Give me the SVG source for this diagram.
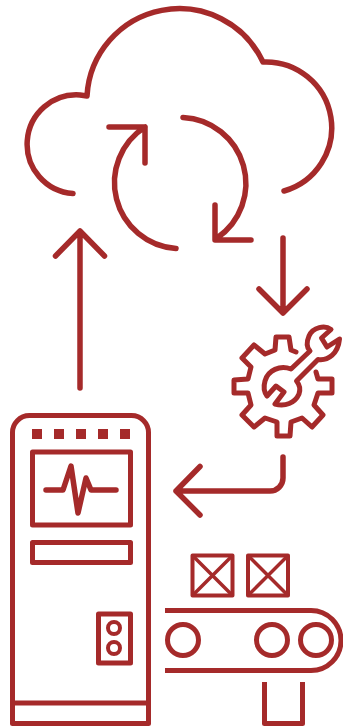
<svg xmlns="http://www.w3.org/2000/svg" width="343" height="726" viewBox="0 0 343 726">
<style>
.l{fill:none;stroke:#a52a2a;stroke-width:5.500;stroke-linecap:round;stroke-linejoin:round}
.g{fill:none;stroke:#a52a2a;stroke-width:5;stroke-linecap:round;stroke-linejoin:round}
.b{fill:none;stroke:#a52a2a;stroke-width:5;stroke-linejoin:round}
.t{fill:none;stroke:#a52a2a;stroke-width:4;stroke-linejoin:round}
.s{fill:#a52a2a}
</style>
<rect width="343" height="726" fill="#fff"/>
<g id="cloud"><path class="l" d="M73 193.500A49.100 49.100 0 0 1 80 95L87 96A92.400 92.400 0 0 1 263 62A65.800 65.800 0 0 1 284 191"/></g>
<g id="cycle">
<path class="l" d="M176 248.500A66 66 0 0 1 145 127M109 127H145V163"/>
<path class="l" d="M183 117.500A66 66 0 0 1 217 238M215 205V240H251"/>
</g>
<g id="gear">
<path class="g" d="M296 352L291 350L289 337H276L275 350L265 354L254 345L242 358L251 367L248 379L234 380V393L248 393L251 405L242 415L254 427L265 418L277 422V436H290L291 422L302 418L312 427L323 415L314 405L318 393L332 393V379L318 379L316 372"/>
<path class="g" d="M331 329.500C325 325 313 327 309 336C306 343 307 348 310 351L291 369C280 365 268 370 265 381C263 388 264 392 267 396L276 386L284 392L275 404C285 407 295 403 299 394C301 388 299 384 296.500 381L318 359.500C328 361 338 354 339.500 339L327 347L321.500 338Z"/>
</g>
<g id="machine">
<path class="b" d="M12.500 433A17 17 0 0 1 29.500 415.500H131.500A17 17 0 0 1 148.500 433V723.500H12.500ZM12.500 703H148.500"/>
<g class="s"><rect x="32" y="429" width="10" height="10"/><rect x="54" y="429" width="10" height="10"/><rect x="76" y="429" width="10" height="10"/><rect x="98" y="429" width="10" height="10"/><rect x="120" y="429" width="10" height="10"/></g>
<rect class="b" x="32.500" y="452" width="98" height="73"/>
<path class="l" d="M46 490H63L71 466L78 513L86 478L91 490H116"/>
<rect class="b" x="32.500" y="542.500" width="98" height="20"/>
<rect class="b" x="98.500" y="614" width="32" height="49"/>
<circle class="t" cx="114" cy="628" r="6"/><circle class="t" cx="114" cy="648" r="6"/>
</g>
<g id="conveyor">
<rect class="t" x="192.500" y="555.500" width="40" height="40"/>
<path d="M192.500 555.500L232.500 595.500M232.500 555.500L192.500 595.500" fill="none" stroke="#a52a2a" stroke-width="3.500"/>
<rect class="t" x="248" y="555.500" width="40" height="40"/>
<path d="M248 555.500L288 595.500M288 555.500L248 595.500" fill="none" stroke="#a52a2a" stroke-width="3.500"/>
<path class="b" d="M165 610.500H311A30 30 0 0 1 311 670.500H165"/>
<circle class="b" cx="183" cy="640" r="15.500"/><circle class="b" cx="272" cy="640" r="15.500"/><circle class="b" cx="316" cy="640" r="15.500"/>
<path class="b" d="M264.500 682V723.500H302.500V682"/>
</g>
<g id="connectors">
<path class="l" d="M80 388V231M55.500 256L80 231L104.500 256"/>
<path class="l" d="M283 238V313M259 289L283 313L307 289"/>
<path class="l" d="M283 457V478A13 13 0 0 1 270 491H176M200 466.500L176 491L200 515"/>
</g>
</svg>
